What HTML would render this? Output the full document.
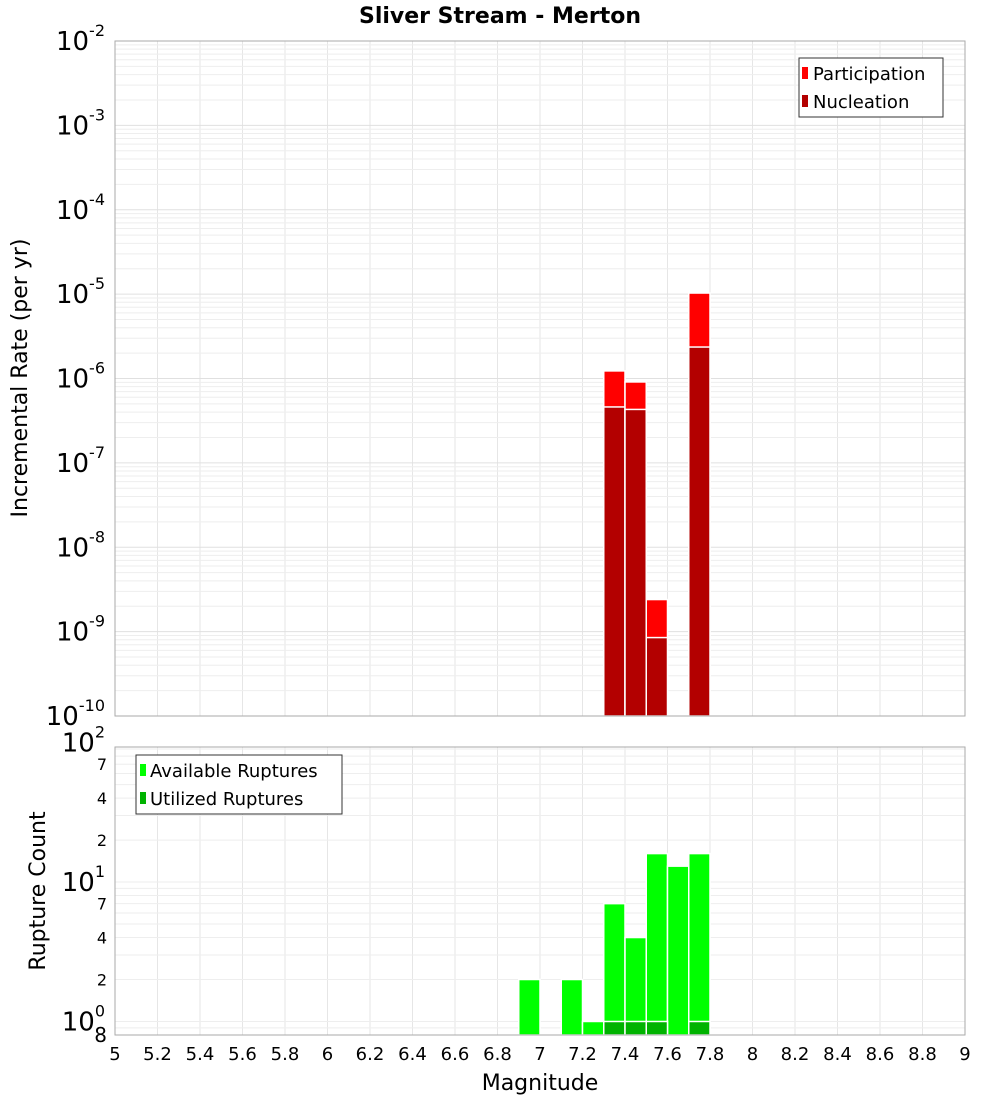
<!DOCTYPE html>
<html><head><meta charset="utf-8"><style>
body{margin:0;background:#fff;font-family:"DejaVu Sans","Liberation Sans",sans-serif}
svg text{font-family:"DejaVu Sans","Liberation Sans",sans-serif}
</style></head><body>
<svg id="c" width="1000" height="1100" xmlns="http://www.w3.org/2000/svg">
<text x="500" y="23" text-anchor="middle" font-size="22" font-weight="bold">Sliver Stream - Merton</text>
<g id="top"></g>
<g id="bot"></g>
<text x="540" y="1090" text-anchor="middle" font-size="22">Magnitude</text>
<text transform="translate(27,378) rotate(-90)" text-anchor="middle" font-size="22">Incremental Rate (per yr)</text>
<text transform="translate(45,891) rotate(-90)" text-anchor="middle" font-size="22">Rupture Count</text>
</svg>
<script>
const binCenters=[7.35,7.45,7.55,7.75];
const participation=[1.23e-6,9.1e-7,2.4e-9,1.03e-5];
const nucleation=[4.6e-7,4.3e-7,8.5e-10,2.36e-6];
const countBins=[6.95,7.15,7.25,7.35,7.45,7.55,7.65,7.75];
const available=[2,2,1,7,4,16,13,16];
const utilizedBins=[7.35,7.45,7.55,7.75];
const utilized=[1,1,1,1];
const xTicks=[5,5.2,5.4,5.6,5.8,6,6.2,6.4,6.6,6.8,7,7.2,7.4,7.6,7.8,8,8.2,8.4,8.6,8.8,9];
const topDecades=[-2,-3,-4,-5,-6,-7,-8,-9,-10];
const botTicks=[[100,"10","2"],[70,"7"],[40,"4"],[20,"2"],[10,"10","1"],[7,"7"],[4,"4"],[2,"2"],[1,"10","0"]];

const NS="http://www.w3.org/2000/svg";
const L=115,R=965;
const xs=m=>L+(m-5)/4*(R-L);
const T1=41,B1=716;
const y1=v=>T1+(-2-Math.log10(v))/8*(B1-T1);
const T2=747,B2=1035,bmin=0.8,bmax=93;
const y2=v=>B2-(Math.log10(v)-Math.log10(bmin))/(Math.log10(bmax)-Math.log10(bmin))*(B2-T2);
function el(p,t,a,txt){const e=document.createElementNS(NS,t);for(const k in a)e.setAttribute(k,a[k]);if(txt!==undefined)e.textContent=txt;p.appendChild(e);return e;}
const gTop=document.getElementById('top'),gBot=document.getElementById('bot');
function xgrid(g,T,B){xTicks.forEach(t=>{const l=el(g,'line',{x1:xs(t),x2:xs(t),y1:T,y2:B,stroke:'#e6e6e6'});

});}
xgrid(gTop,T1,B1);xgrid(gBot,T2,B2);
for(let d=-10;d<-2;d++)for(let k=1;k<10;k++){const v=k*Math.pow(10,d);const l=el(gTop,'line',{x1:L,x2:R,y1:y1(v),y2:y1(v),stroke:k==1?'#e0e0e0':'#eeeeee'});

}
for(let d=-1;d<2;d++)for(let k=1;k<10;k++){const v=k*Math.pow(10,d);if(v<bmin||v>bmax)continue;const l=el(gBot,'line',{x1:L,x2:R,y1:y2(v),y2:y2(v),stroke:'#eeeeee'});

}
binCenters.forEach((m,i)=>{
const a=el(gTop,'rect',{x:xs(m-0.05),y:y1(participation[i]),width:xs(m+0.05)-xs(m-0.05),height:B1-y1(participation[i]),fill:'#ff0000',stroke:'#fff','stroke-width':1.5});


const b=el(gTop,'rect',{x:xs(m-0.05),y:y1(nucleation[i]),width:xs(m+0.05)-xs(m-0.05),height:B1-y1(nucleation[i]),fill:'#b30000',stroke:'#fff','stroke-width':1.5});

});
countBins.forEach((m,i)=>{
const a=el(gBot,'rect',{x:xs(m-0.05),y:y2(available[i]),width:xs(m+0.05)-xs(m-0.05),height:B2-y2(available[i]),fill:'#00ff00',stroke:'#fff','stroke-width':1.5});

});
utilizedBins.forEach((m,i)=>{
const a=el(gBot,'rect',{x:xs(m-0.05),y:y2(utilized[i]),width:xs(m+0.05)-xs(m-0.05),height:B2-y2(utilized[i]),fill:'#00b300',stroke:'#fff','stroke-width':1.5});

});
el(gTop,'rect',{x:L,y:T1,width:R-L,height:B1-T1,fill:'none',stroke:'#aaa'});
el(gBot,'rect',{x:L,y:T2,width:R-L,height:B2-T2,fill:'none',stroke:'#aaa'});
topDecades.forEach(d=>{const y=y1(Math.pow(10,d));
const t=el(gTop,'text',{x:105,y:y+9,'text-anchor':'end','font-size':26});


el(t,'tspan',{},'10');el(t,'tspan',{dy:-14,'font-size':16},String(d));});
botTicks.forEach(tk=>{const y=y2(tk[0]);
const t=el(gBot,'text',{x:tk.length>2?105:107,y:tk.length>2?y+9:y+6,'text-anchor':'end','font-size':tk.length>2?26:16});


if(tk.length>2){el(t,'tspan',{},tk[1]);el(t,'tspan',{dy:-14,'font-size':16},tk[2]);}else t.textContent=tk[1];});
const e8=el(gBot,'text',{x:107,y:1042,'text-anchor':'end','font-size':20},'8');


xTicks.forEach(t=>{const x=el(gBot,'text',{x:xs(t),y:1060,'text-anchor':'middle','font-size':18},String(t));

});
</script>
<svg style="position:absolute;left:0;top:0" width="1000" height="1100" xmlns="http://www.w3.org/2000/svg">
<g>
<rect x="799" y="58" width="144" height="59" fill="#fff" stroke="#333"/>
<rect x="802" y="67" width="6" height="12" fill="#ff0000"/><text x="813" y="80" font-size="18">Participation</text>
<rect x="802" y="95" width="6" height="12" fill="#b30000"/><text x="813" y="108" font-size="18">Nucleation</text>
</g>
<g>
<rect x="136" y="755" width="206" height="59" fill="#fff" stroke="#333"/>
<rect x="140" y="764" width="6" height="12" fill="#00ff00"/><text x="150" y="777" font-size="18">Available Ruptures</text>
<rect x="140" y="792" width="6" height="12" fill="#00b300"/><text x="150" y="805" font-size="18">Utilized Ruptures</text>
</g>
</svg>
</body></html>
